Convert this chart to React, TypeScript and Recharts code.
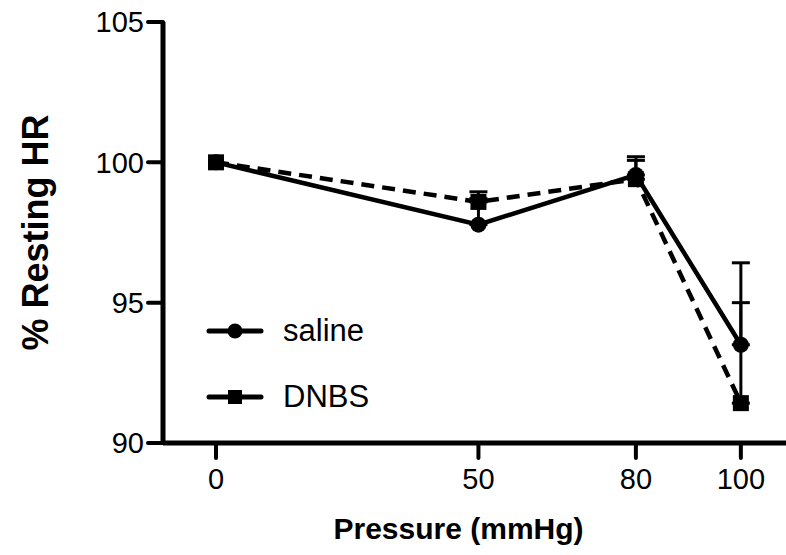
import React from 'react';
import { ComposedChart, Line, XAxis, YAxis, ErrorBar } from 'recharts';

// values
const pressure = [0, 50, 80, 100];
const saline = [100, 97.78, 99.55, 93.5];
const salineErr = [0, 0.93, 0.65, 2.92];
const dnbs = [100, 98.59, 99.4, 91.42];
const dnbsErr = [0, 0.36, 0.67, 3.58];

const xTicks = [0, 50, 80, 100];
const yTicks = [90, 95, 100, 105];

const FONT = '"Liberation Sans", Arial, sans-serif';

const data = pressure.map((p, i) => ({
  p,
  saline: saline[i],
  salineErr: salineErr[i] ? [0, salineErr[i]] : null,
  dnbs: dnbs[i],
  dnbsErr: dnbsErr[i] ? [0, dnbsErr[i]] : null,
}));

const CircleDot = (props: any) => {
  const { cx, cy, index } = props;
  if (cx == null || cy == null) return null;
  return <circle key={`c-${index}`} cx={cx} cy={cy} r={8} fill="#000" />;
};

const SquareDot = (props: any) => {
  const { cx, cy, index } = props;
  if (cx == null || cy == null) return null;
  return <rect key={`s-${index}`} x={cx - 8} y={cy - 8} width={16} height={16} fill="#000" />;
};

const LegendBox = () => {
  const rows = [
    { name: 'saline', shape: 'circle' },
    { name: 'DNBS', shape: 'square' },
  ];
  return (
    <div style={{ position: 'absolute', left: 202, top: 298, fontFamily: FONT }}>
      {rows.map((r) => (
        <div key={r.name} style={{ display: 'flex', alignItems: 'center', height: 66 }}>
          <svg width={66} height={20}>
            <line x1={7} y1={10} x2={59} y2={10} stroke="#000" strokeWidth={5} strokeLinecap="round" />
            {r.shape === 'circle' ? (
              <circle cx={33} cy={10} r={7.5} fill="#000" />
            ) : (
              <rect x={26} y={3} width={14} height={14} fill="#000" />
            )}
          </svg>
          <span style={{ fontSize: 31, marginLeft: 15, color: '#000' }}>{r.name}</span>
        </div>
      ))}
    </div>
  );
};

export default function App() {
  return (
    <div style={{ position: 'absolute', left: 0, top: 0, width: 786, height: 555, background: '#fff' }}>
      <ComposedChart width={786} height={555} data={data} margin={{ top: 22, right: 0, bottom: 0, left: 0 }}>
        <XAxis
          dataKey="p"
          type="number"
          domain={[-10.1, 108.6]}
          ticks={xTicks}
          height={112}
          tickSize={15}
          tickMargin={10}
          axisLine={{ stroke: '#000', strokeWidth: 5 }}
          tickLine={{ stroke: '#000', strokeWidth: 4, strokeLinecap: 'round' }}
          tick={{ fill: '#000', fontSize: 29, fontFamily: FONT }}
          label={{
            value: 'Pressure (mmHg)',
            position: 'insideBottom',
            offset: 16,
            dx: -16,
            style: { fill: '#000', fontSize: 30, fontWeight: 'bold', fontFamily: FONT },
          }}
        />
        <YAxis
          type="number"
          domain={[90, 105]}
          ticks={yTicks}
          width={163}
          tickSize={15}
          tickMargin={4}
          axisLine={{ stroke: '#000', strokeWidth: 5 }}
          tickLine={{ stroke: '#000', strokeWidth: 4, strokeLinecap: 'round' }}
          tick={{ fill: '#000', fontSize: 29, fontFamily: FONT }}
          label={{
            value: '% Resting HR',
            angle: -90,
            position: 'insideLeft',
            offset: 35,
            style: { fill: '#000', fontSize: 36, fontWeight: 'bold', fontFamily: FONT, textAnchor: 'middle' },
          }}
        />
        <Line
          dataKey="dnbs"
          name="DNBS"
          stroke="#000"
          strokeWidth={4.5}
          strokeDasharray="13 8"
          dot={SquareDot}
          activeDot={false}
          isAnimationActive={false}
        >
          <ErrorBar dataKey="dnbsErr" direction="y" width={9} stroke="#000" strokeWidth={3} />
        </Line>
        <Line
          dataKey="saline"
          name="saline"
          stroke="#000"
          strokeWidth={4.5}
          dot={CircleDot}
          activeDot={false}
          isAnimationActive={false}
        >
          <ErrorBar dataKey="salineErr" direction="y" width={9} stroke="#000" strokeWidth={3} />
        </Line>
      </ComposedChart>
      <LegendBox />
    </div>
  );
}
